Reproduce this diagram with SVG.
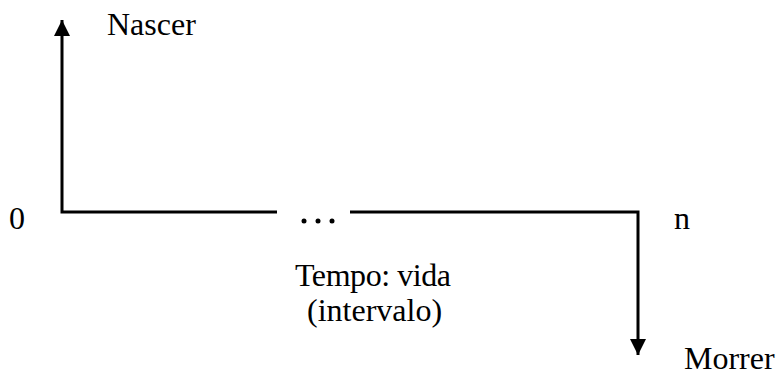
<svg xmlns="http://www.w3.org/2000/svg" width="776" height="376" viewBox="0 0 776 376">
<style>
text{font-family:"Liberation Serif","Times New Roman",serif;font-size:32px;fill:#000}
.ln{stroke:#000;stroke-width:3;fill:none}
</style>
<defs>
<marker id="ah" viewBox="0 0 16 16" refX="16" refY="8" markerWidth="16" markerHeight="16" markerUnits="userSpaceOnUse" orient="auto">
<path d="M0,0 L16,8 L0,16 z" fill="#000"/>
</marker>
</defs>
<rect width="776" height="376" fill="#fff"/>
<g id="connectors">
<polyline class="ln" points="277,212 62,212 62,20" marker-end="url(#ah)"/>
<polyline class="ln" points="350,212 638,212 638,355" marker-end="url(#ah)"/>
</g>
<g id="dots">
<circle cx="304" cy="221" r="2.5"/>
<circle cx="318" cy="221" r="2.5"/>
<circle cx="332" cy="221" r="2.5"/>
</g>
<g id="nascer"><text x="107" y="35">Nascer</text></g>
<g id="morrer"><text x="684" y="369">Morrer</text></g>
<g id="zero"><text x="9" y="229">0</text></g>
<g id="n"><text x="674" y="229">n</text></g>
<g id="tempo"><text x="295" y="286" textLength="156" lengthAdjust="spacing">Tempo: vida</text><text x="307" y="321">(intervalo)</text></g>
</svg>
